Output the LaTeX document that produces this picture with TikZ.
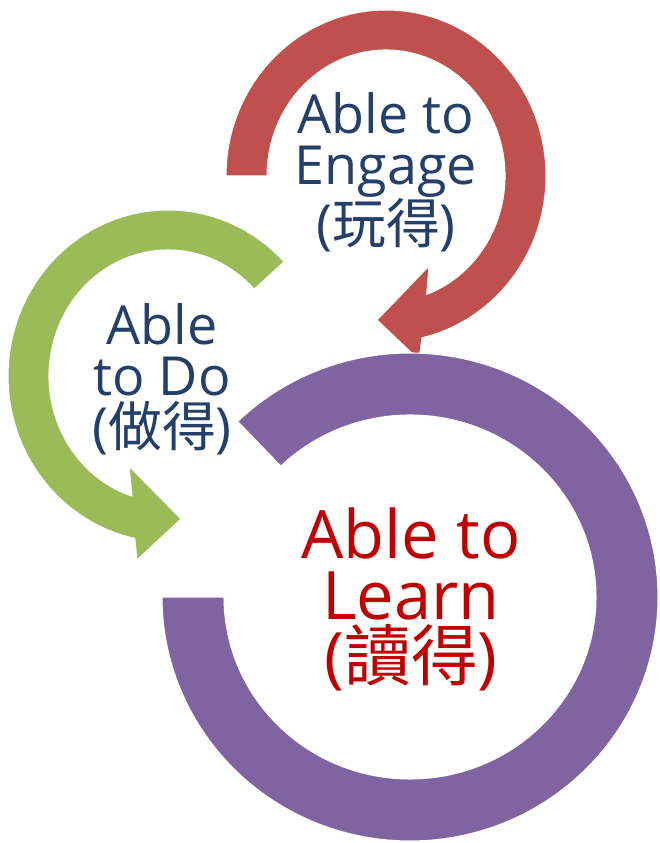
\documentclass[tikz,border=0pt]{standalone}
\usepackage{fontspec}
\setmainfont{Open Sans}
\newfontfamily\cjk{Noto Sans CJK TC}
\definecolor{arrowred}{HTML}{C0504D}
\definecolor{arrowgreen}{HTML}{9BBB59}
\definecolor{ringpurple}{HTML}{8064A2}
\definecolor{labelblue}{HTML}{24406A}
\definecolor{labelred}{HTML}{C00000}

\begin{document}
\begin{tikzpicture}[x=0.03cm,y=0.03cm]
	\tikzstyle{arcband} = [draw=white,line width=0.9pt,line join=round]
	\tikzstyle{textblock} = [align=center,text=labelblue,font=\fontsize{46}{43.5}\selectfont]
	\useasboundingbox (0,0) rectangle (659,843);
	% engage arrow (red)
	\begin{scope}[shift={(386,667)}]
		\path[arcband,fill=arrowred] (180:160 and 166) arc[start angle=180,end angle=-77,x radius=160,y radius=166]
			-- (33,-184) -- (-9,-144) -- (43,-90) -- (-70:119 and 126)
			arc[start angle=-70,end angle=180,x radius=119,y radius=126] -- cycle;
	\end{scope}
	% do arrow (green)
	\begin{scope}[shift={(168,467)}]
		\path[arcband,fill=arrowgreen] (43.5:160 and 166) arc[start angle=43.5,end angle=258,x radius=160,y radius=166]
			-- (-31,-184) -- (13,-143) -- (-39,-90) -- (252.4:119 and 126)
			arc[start angle=252.4,end angle=43.5,x radius=119,y radius=126] -- cycle;
	\end{scope}
	% learn ring (purple)
	\begin{scope}[shift={(410,246)}]
		\path[arcband,fill=ringpurple] (134:248 and 244) arc[start angle=134,end angle=-180,x radius=248,y radius=244]
			-- (180:186 and 182) arc[start angle=-180,end angle=134,x radius=186,y radius=182] -- cycle;
	\end{scope}
	\node[textblock] (engage) at (386,671) {Able to\\Engage\\({\cjk 玩得})};
	\node[textblock] (do) at (162,464) {Able\\to Do\\({\cjk 做得})};
	\node[textblock,text=labelred,font=\fontsize{57}{52}\selectfont] (learn) at (411,244) {Able to\\Learn\\({\cjk 讀得})};
\end{tikzpicture}
\end{document}
